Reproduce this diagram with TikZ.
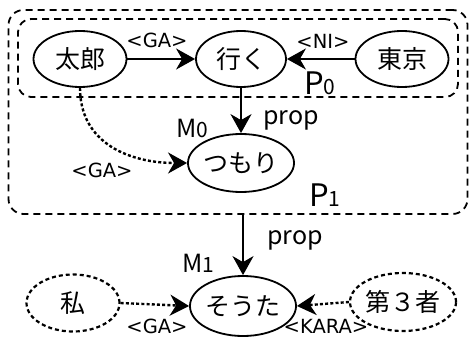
\documentclass[tikz,border=0pt]{standalone}
\usepackage{fontspec}
\setmainfont{Noto Sans CJK JP}
\newfontfamily\labfont{DejaVu Sans}
\usetikzlibrary{shapes.geometric,arrows.meta}
\tikzset{
  ell/.style={ellipse, draw, line width=1.8pt, minimum width=93pt, minimum height=56pt, inner sep=0pt, font=\fontsize{25}{25}\selectfont},
  dell/.style={ell, dash pattern=on 4pt off 3pt, line width=2.2pt},
  arr/.style={line width=2pt, -{Stealth[length=19pt,width=21pt,inset=6pt]}},
  darr/.style={arr, dash pattern=on 3pt off 2.2pt, line width=2.4pt},
  lab/.style={font=\labfont\fontsize{19.5}{20}\selectfont, inner sep=0pt},
  proplab/.style={font=\fontsize{25}{25}\selectfont, inner sep=0pt},
  plab/.style={font=\fontsize{31}{31}\selectfont, inner sep=0pt},
  mlab/.style={font=\fontsize{25}{25}\selectfont, inner sep=0pt},
  dbox/.style={draw, line width=1.8pt, dash pattern=on 7pt off 5pt, inner sep=0pt}
}
\newcommand{\subd}[1]{{\fontsize{21}{21}\selectfont #1}}
\begin{document}
\begin{tikzpicture}[x=1pt,y=-1pt]
\useasboundingbox (0,0) rectangle (473,339);
% boxes
\node[dbox, rounded corners=15pt, minimum width=459pt, minimum height=204pt] (pone) at (238,112) {};
\node[dbox, rounded corners=13pt, minimum width=440pt, minimum height=78pt] (pzero) at (238,58) {};
% nodes
\node[ell] (taro) at (80,59) {太郎};
\node[ell, minimum width=90pt] (iku) at (241,59) {行く};
\node[ell] (tokyo) at (402,59) {東京};
\node[ell, minimum height=58pt] (tsumori) at (241,163) {つもり};
\node[ell, minimum height=60pt] (souda) at (243,306) {そうた};
\node[dell, minimum height=57pt] (watashi) at (73,303) {私};
\node[dell, minimum height=58pt] (daisan) at (403,302) {第３者};
% arrows
\draw[arr] (taro) -- (iku);
\draw[arr] (tokyo) -- (iku);
\draw[arr] (iku.south) -- (tsumori.north);
\draw[darr] (taro.south) to[out=-90,in=180,looseness=1.1] (tsumori.west);
\coordinate (pbot) at (pone.south -| souda.north);
\draw[arr] (pbot) -- (souda.north);
\draw[darr] (watashi.east) -- (souda.west);
\draw[darr] (daisan.west) -- (souda.east);
% labels
\node[lab] (l1) at (157,40) {<GA>};
\node[lab] (l2) at (323,41) {<NI>};
\node[plab] (l3) at (320,83) {P\subd{0}};
\node[proplab] (l4) at (291,120) {prop};
\node[mlab] (l5) at (192,128) {M\subd{0}};
\node[lab] (l6) at (102,170) {<GA>};
\node[plab] (l7) at (325,195) {P\subd{1}};
\node[proplab] (l8) at (295,240) {prop};
\node[mlab] (l9) at (198,263) {M\subd{1}};
\node[lab] (l10) at (157,326) {<GA>};
\node[lab] (l11) at (326,326) {<KARA>};
\end{tikzpicture}
\end{document}
